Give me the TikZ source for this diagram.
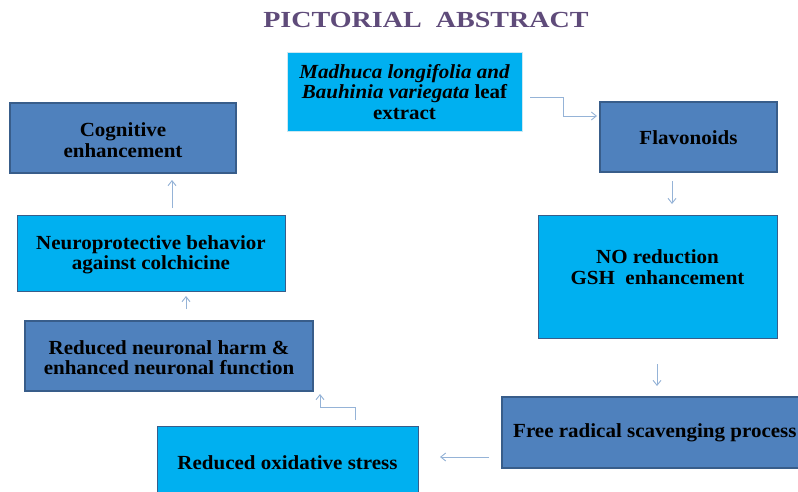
\documentclass[tikz,border=0pt]{standalone}
\usepackage{fontspec}
\setmainfont[FakeStretch=1.05]{Liberation Serif}
\newfontfamily\ttlfont[FakeStretch=1.22]{Liberation Serif}
\usetikzlibrary{arrows.meta}
\definecolor{lblue}{HTML}{00B0F0}
\definecolor{sblue}{HTML}{4F81BD}
\definecolor{sborder}{HTML}{385D8A}
\definecolor{arr}{HTML}{95B3D7}
\definecolor{ttl}{HTML}{5F4B7A}
\begin{document}
\begin{tikzpicture}[x=1pt,y=-1pt,
  lightbox/.style={fill=lblue,draw=sborder,line width=0.8pt},
  lightboxnb/.style={fill=lblue,draw=lblue!80!black!20!white,line width=0.5pt},
  darkbox/.style={fill=sblue,draw=sborder,line width=1.2pt},
  txt/.style={font=\fontsize{20}{20.5}\selectfont\bfseries,align=center,inner sep=0pt},
  conn/.style={draw=arr,line width=0.9pt,-{Straight Barb[length=5pt,width=8pt]}}]
\useasboundingbox (0,0) rectangle (798,492);
\fill[white] (0,0) rectangle (798,492);
\node[font=\ttlfont\fontsize{23}{26}\selectfont\bfseries,text=ttl,inner sep=0pt] (title) at (426,20) {PICTORIAL\ \ ABSTRACT};

% boxes
\draw[lightboxnb] (287,52) rectangle (522,131);
\node[txt] (t1) at (404.5,92) {\itshape Madhuca longifolia and\\\itshape Bauhinia variegata \upshape leaf\\extract};
\coordinate (b1) at (522,97);

\draw[darkbox] (600,102) rectangle (777,172);
\node[txt] (t2) at (688.5,138) {Flavonoids};
\coordinate (b2w) at (600,116);
\coordinate (b2s) at (672,172);

\draw[lightbox] (538,215) rectangle (777,338);
\node[txt] (t3) at (657.5,267) {NO reduction\\GSH\ \ enhancement};
\coordinate (b3n) at (672,215);
\coordinate (b3s) at (657,338);

\draw[darkbox] (502,397) rectangle (805,468);
\node[txt,anchor=west] (t4) at (513,433) {Free radical scavenging process};
\coordinate (b4n) at (657,397);
\coordinate (b4w) at (502,457);

\draw[lightbox] (157,426) rectangle (418,500);
\node[txt] (t5) at (287.5,463) {Reduced oxidative stress};
\coordinate (b5e) at (418,457);
\coordinate (b5n) at (355,426);

\draw[darkbox] (25,321) rectangle (313,391);
\node[txt] (t6) at (169,357.5) {Reduced neuronal harm \&\\enhanced neuronal function};
\coordinate (b6s) at (320,391);
\coordinate (b6n) at (186,321);

\draw[lightbox] (17,215) rectangle (285,291);
\node[txt] (t7) at (151,255) {Neuroprotective behavior\\against colchicine};
\coordinate (b7s) at (186,291);
\coordinate (b7n) at (172,215);

\draw[darkbox] (10,103) rectangle (236,173);
\node[txt] (t8) at (123,140) {Cognitive\\enhancement};
\coordinate (b8s) at (172,173);

% connectors
\coordinate (c1s) at (530,97);
\coordinate (c1e) at (597,116);
\draw[conn] (c1s) -- (563,97) -- (563,116) -- (c1e);
\coordinate (c2s) at (672,181);
\coordinate (c2e) at (672,204);
\draw[conn] (c2s) -- (c2e);
\coordinate (c3s) at (657,364);
\coordinate (c3e) at (657,386);
\draw[conn] (c3s) -- (c3e);
\coordinate (c4s) at (489,457);
\coordinate (c4e) at (440,457);
\draw[conn] (c4s) -- (c4e);
\coordinate (c5s) at (355,420);
\coordinate (c5e) at (320,394);
\draw[conn] (c5s) -- (355,407) -- (320,407) -- (c5e);
\coordinate (c6s) at (186,309);
\coordinate (c6e) at (186,296);
\draw[conn] (c6s) -- (c6e);
\coordinate (c7s) at (172,208);
\coordinate (c7e) at (172,180);
\draw[conn] (c7s) -- (c7e);
\end{tikzpicture}
\end{document}
